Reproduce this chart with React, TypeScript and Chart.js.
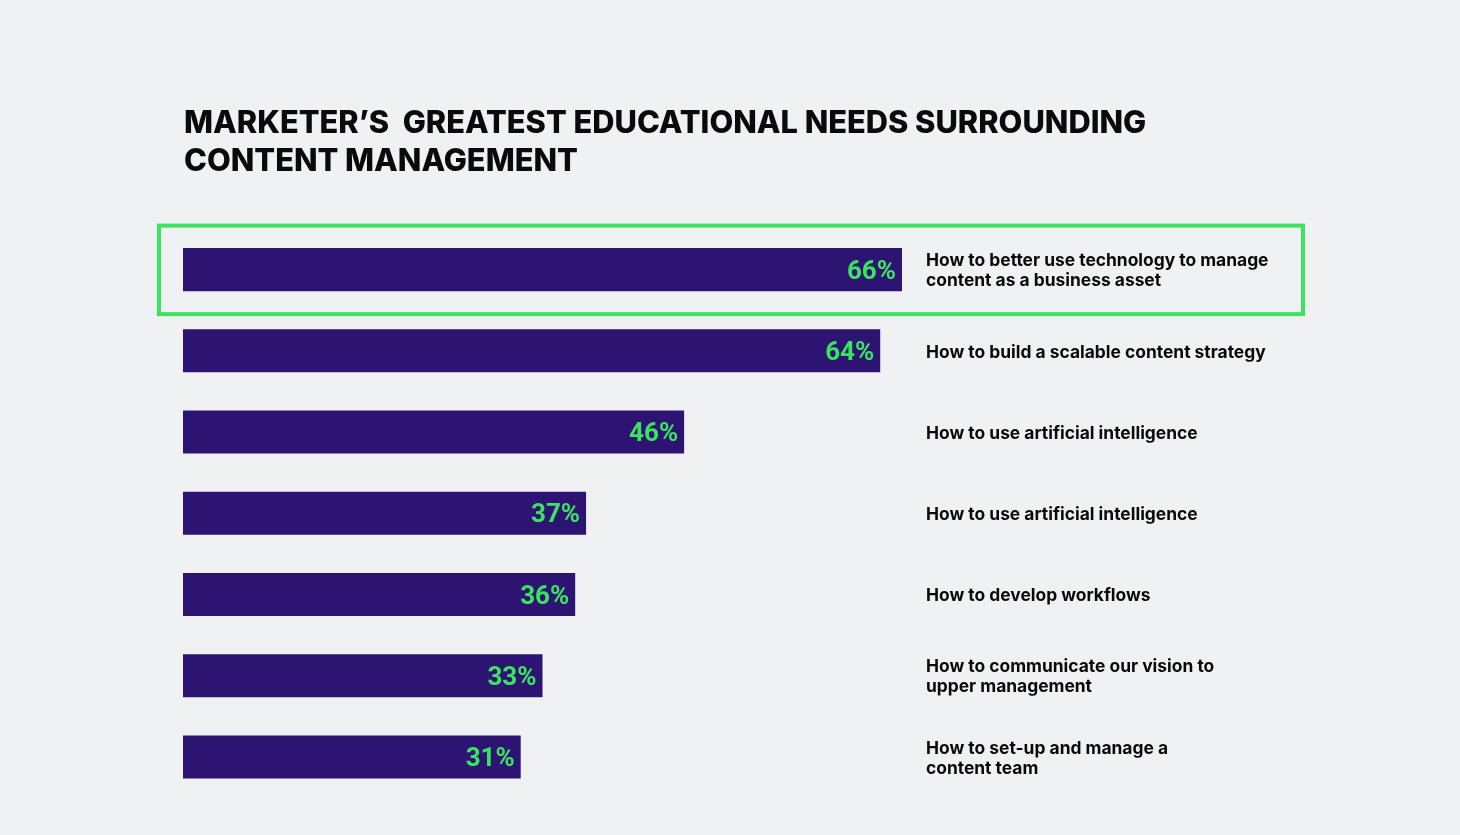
import React, { useEffect, useRef } from "react";
import { Chart, registerables } from "chart.js";

Chart.register(...registerables);

const titleLines = [
  "MARKETER\u2019S  GREATEST EDUCATIONAL NEEDS SURROUNDING",
  "CONTENT MANAGEMENT",
];

const categories: string[][] = [
  ["How to better use technology to manage", "content as a business asset"],
  ["How to build a scalable content strategy"],
  ["How to use artificial intelligence"],
  ["How to use artificial intelligence"],
  ["How to develop workflows"],
  ["How to communicate our vision to", "upper management"],
  ["How to set-up and manage a", "content team"],
];

const values = [66, 64, 46, 37, 36, 33, 31];

const highlightIndex = 0;

const BG = "#f0f1f3";
const BAR = "#2e1472";
const GREEN = "#3ae45f";
const TEXT = "#0a0a0a";

const overlayPlugin = {
  id: "overlay",
  afterDatasetsDraw(chart: any) {
    const { ctx, chartArea } = chart;
    const xs = chart.scales.x;
    const ys = chart.scales.y;
    const meta = chart.getDatasetMeta(0);
    ctx.save();

    // title
    ctx.fillStyle = TEXT;
    ctx.font = "800 30.8px Inter";
    ctx.textAlign = "left";
    ctx.textBaseline = "alphabetic";
    titleLines.forEach((line, i) => {
      ctx.fillText(line, chartArea.left + 1, 133 + i * 38);
    });

    // value labels
    ctx.fillStyle = GREEN;
    ctx.font = "700 26px Roboto";
    ctx.textAlign = "right";
    ctx.textBaseline = "middle";
    meta.data.forEach((bar: any, i: number) => {
      ctx.fillText(values[i] + "%", bar.x - 6, bar.y + 2.5);
    });

    // category labels
    const labelX = xs.getPixelForValue(Math.max(...values)) + 24;
    ctx.fillStyle = TEXT;
    ctx.font = "700 17.4px Inter";
    ctx.textAlign = "left";
    ctx.textBaseline = "middle";
    const lh = 20;
    categories.forEach((lines, i) => {
      const cy = ys.getPixelForValue(i) + 1.5;
      const start = cy - ((lines.length - 1) * lh) / 2;
      lines.forEach((l, j) => ctx.fillText(l, labelX, start + j * lh));
    });

    // highlight box
    const hy = ys.getPixelForValue(highlightIndex);
    ctx.strokeStyle = GREEN;
    ctx.lineWidth = 4;
    ctx.strokeRect(chartArea.left - 24, hy - 44, 1303 - (chartArea.left - 24), 88.5);

    ctx.restore();
  },
};

export default function App() {
  const ref = useRef<HTMLCanvasElement | null>(null);
  useEffect(() => {
    if (!ref.current) return;
    const chart = new Chart(ref.current, {
      type: "bar",
      data: {
        labels: categories.map((c) => c.join(" ")),
        datasets: [
          {
            data: values,
            backgroundColor: BAR,
            borderWidth: 0,
            barPercentage: 0.53,
            categoryPercentage: 1,
          },
        ],
      },
      options: {
        indexAxis: "y",
        responsive: false,
        animation: false,
        maintainAspectRatio: false,
        layout: { padding: { left: 183, right: 187.6, top: 229, bottom: 37.4 } },
        plugins: {
          legend: { display: false },
          tooltip: { enabled: false },
          title: { display: false },
        },
        scales: {
          x: { display: false, min: 0, max: 100 },
          y: { display: false },
        },
      },
      plugins: [overlayPlugin],
    });
    return () => chart.destroy();
  }, []);
  return (
    <div
      style={{
        position: "fixed",
        left: 0,
        top: 0,
        width: 1460,
        height: 835,
        background: BG,
      }}
    >
      <canvas ref={ref} width={1460} height={835} style={{ display: "block" }} />
    </div>
  );
}
